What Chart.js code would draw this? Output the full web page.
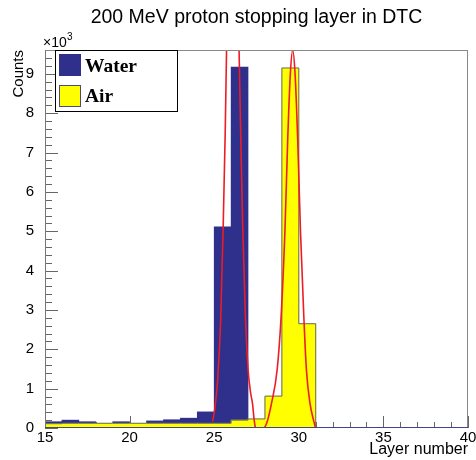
<!DOCTYPE html>
<html>
<head>
<meta charset="utf-8">
<script src="https://cdn.jsdelivr.net/npm/chart.js@4.4.1/dist/chart.umd.min.js"></script>
<style>
  html, body { margin: 0; padding: 0; background: #fff; }
</style>
</head>
<body>
<canvas id="layerChart" width="476" height="460"></canvas>
<script>
// bin low edges (layer number), one bin per layer
const layers = [15, 16, 17, 18, 19, 20, 21, 22, 23, 24, 25, 26, 27, 28, 29, 30, 31, 32, 33, 34, 35, 36, 37, 38, 39];
const water = [160, 200, 160, 100, 160, 110, 180, 210, 250, 410, 5110, 9170, 50, 0, 0, 0, 0, 0, 0, 0, 0, 0, 0, 0, 0];
const air = [110, 120, 120, 120, 120, 120, 120, 120, 120, 120, 120, 200, 230, 810, 9150, 2650, 0, 0, 0, 0, 0, 0, 0, 0, 0];

// gaussian fits
const waterFitX = [24.9, 25.04, 25.2, 25.38, 25.53, 25.65, 25.73, 25.9, 26.1, 26.3, 26.47, 26.57, 26.68, 26.83, 27.0, 27.15, 27.27, 27.35, 27.42, 27.5];
const waterFitY = [160, 500, 1200, 2700, 5100, 7500, 9600, 13500, 15000, 13500, 9600, 7400, 5200, 3000, 1500, 900, 600, 250, 40, 0];
const airFitX = [27.4, 27.9, 28.1, 28.39, 28.72, 28.95, 29.18, 29.35, 29.5, 29.64, 29.78, 29.93, 30.1, 30.3, 30.45, 30.66, 30.9, 31.0, 31.55];
const airFitY = [0, 0, 120, 630, 1480, 2800, 5000, 7400, 9000, 9600, 9000, 7400, 5000, 2800, 1480, 630, 150, 0, 0];

const xTickLabels = [15, 20, 25, 30, 35, 40];
const yTickLabels = [0, 1, 2, 3, 4, 5, 6, 7, 8, 9];
const yMax = 9607;
const chartTitle = "200 MeV proton stopping layer in DTC";

const NAVY = "#2f2f8c";
const YELLOW = "#ffff00";
const RED = "#ee1c25";
const SANS = '"Liberation Sans", Arial, sans-serif';

const rootStyle = {
  id: "rootStyle",
  beforeDatasetsDraw(chart) {
    const { ctx, chartArea: a, scales: { x, y } } = chart;
    ctx.save();
    ctx.strokeStyle = "#666";
    ctx.lineWidth = 1;
    ctx.beginPath();
    for (let v = x.min; v <= x.max; v++) {
      const px = Math.round(x.getPixelForValue(v)) + 0.5;
      const len = v % 5 === 0 ? 12 : 6;
      ctx.moveTo(px, a.bottom);
      ctx.lineTo(px, a.bottom - len);
    }
    for (let v = 0; v <= y.max; v += 200) {
      const py = Math.round(y.getPixelForValue(v)) + 0.5;
      const len = v % 1000 === 0 ? 13 : 7;
      ctx.moveTo(a.left, py);
      ctx.lineTo(a.left + len, py);
    }
    ctx.stroke();
    ctx.restore();
  },
  afterDatasetsDraw(chart) {
    const { ctx, chartArea: a } = chart;
    ctx.save();
    ctx.lineWidth = 1;
    ctx.strokeStyle = "#888";
    ctx.beginPath();
    ctx.moveTo(a.left, a.top + 0.5);
    ctx.lineTo(a.right, a.top + 0.5);
    ctx.moveTo(a.right - 0.5, a.top);
    ctx.lineTo(a.right - 0.5, a.bottom);
    ctx.stroke();
    ctx.strokeStyle = "#777";
    ctx.beginPath();
    ctx.moveTo(a.left + 0.5, a.top);
    ctx.lineTo(a.left + 0.5, a.bottom);
    ctx.stroke();
    ctx.strokeStyle = "#44448a";
    ctx.beginPath();
    ctx.moveTo(a.left, a.bottom - 0.5);
    ctx.lineTo(a.right, a.bottom - 0.5);
    ctx.stroke();
    ctx.restore();
  },
  afterDraw(chart) {
    const { ctx, chartArea: a } = chart;
    ctx.save();
    ctx.fillStyle = "#000";
    ctx.textBaseline = "alphabetic";

    // title, centred over the frame
    ctx.textAlign = "center";
    ctx.font = "19.5px " + SANS;
    ctx.fillText(chartTitle, (a.left + a.right) / 2, 23);
    ctx.textAlign = "left";

    // exponent above the y axis
    ctx.font = "14px " + SANS;
    ctx.fillText("\u00d710", a.left - 2, 47);
    ctx.font = "10px " + SANS;
    ctx.fillText("3", a.left + 22, 40);

    // legend box
    ctx.fillStyle = "#fff";
    ctx.fillRect(55, 50, 122, 61);
    ctx.strokeStyle = "#000";
    ctx.strokeRect(55.5, 50.5, 122, 61);
    ctx.fillStyle = NAVY;
    ctx.fillRect(59, 54, 22, 22);
    ctx.strokeStyle = NAVY;
    ctx.strokeRect(59.5, 54.5, 21, 21);
    ctx.fillStyle = YELLOW;
    ctx.fillRect(59, 85, 22, 22);
    ctx.strokeStyle = "#4a4a80";
    ctx.strokeRect(59.5, 85.5, 21, 21);
    ctx.fillStyle = "#000";
    ctx.font = 'bold 19.5px "Liberation Serif", "Times New Roman", serif';
    ctx.fillText("Water", 85, 72);
    ctx.fillText("Air", 85, 102);
    ctx.restore();
  }
};

function createLayerChart() {
  const data = {
    datasets: [
      {
        type: "line",
        data: waterFitX.map((v, i) => ({ x: v, y: waterFitY[i] })),
        borderColor: RED,
        borderWidth: 1.6,
        pointRadius: 0,
        fill: false,
        cubicInterpolationMode: "monotone",
        order: 1,
      },
      {
        type: "line",
        data: airFitX.map((v, i) => ({ x: v, y: airFitY[i] })),
        borderColor: RED,
        borderWidth: 1.6,
        pointRadius: 0,
        fill: false,
        cubicInterpolationMode: "monotone",
        order: 2,
      },
      {
        type: "line",
        data: layers.map((l, i) => ({ x: l, y: air[i] })).concat([{ x: 40, y: air[air.length - 1] }]),
        borderColor: "#666",
        borderWidth: 1,
        pointRadius: 0,
        fill: false,
        stepped: "before",
        order: 3,
      },
      {
        type: "bar",
        label: "Air",
        data: layers.map((l, i) => ({ x: l + 0.5, y: air[i] })),
        backgroundColor: YELLOW,
        borderWidth: 0,
        barPercentage: 1,
        categoryPercentage: 1,
        grouped: false,
        order: 4,
      },
      {
        type: "bar",
        label: "Water",
        data: layers.map((l, i) => ({ x: l + 0.5, y: water[i] })),
        backgroundColor: NAVY,
        borderWidth: 0,
        barPercentage: 1,
        categoryPercentage: 1,
        grouped: false,
        order: 5,
      },
    ],
  };

  const config = {
    type: "bar",
    data: data,
    plugins: [rootStyle],
    options: {
      responsive: false,
      animation: false,
      devicePixelRatio: 1,
      layout: { padding: { left: 0, right: 8, top: 50, bottom: 0 } },
      plugins: {
        legend: { display: false },
        tooltip: { enabled: false },
        title: { display: false },
      },
      scales: {
        x: {
          type: "linear",
          min: 15,
          max: 40,
          offset: false,
          grid: { display: false },
          border: { display: false },
          afterBuildTicks: (s) => { s.ticks = xTickLabels.map((v) => ({ value: v })); },
          afterFit: (s) => { s.height = 32; s.paddingLeft = 0; s.paddingRight = 0; },
          ticks: {
            autoSkip: false,
            maxRotation: 0,
            padding: -7,
            color: "#000",
            font: { family: SANS, size: 15 },
          },
          title: {
            display: true,
            text: "Layer number",
            align: "end",
            color: "#000",
            font: { family: SANS, size: 16 },
            padding: { top: 0, bottom: 1 },
          },
        },
        y: {
          type: "linear",
          min: 0,
          max: yMax,
          grid: { display: false },
          border: { display: false },
          afterBuildTicks: (s) => { s.ticks = yTickLabels.map((v) => ({ value: v * 1000 })); },
          afterFit: (s) => { s.width = 45; s.paddingTop = 0; s.paddingBottom = 0; },
          ticks: {
            padding: 3,
            color: "#000",
            font: { family: SANS, size: 15 },
            callback: (v) => v / 1000,
          },
          title: {
            display: true,
            text: "Counts",
            align: "end",
            color: "#000",
            font: { family: SANS, size: 15 },
            padding: { top: 9.5, bottom: 0 },
          },
        },
      },
    },
  };

  const ctx = document.getElementById("layerChart");
  new Chart(ctx, config);
}

document.addEventListener("DOMContentLoaded", () => {
  createLayerChart();
});
</script>
</body>
</html>
